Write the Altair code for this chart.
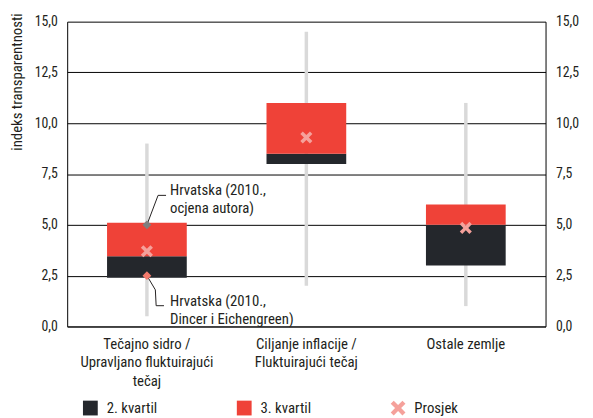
import math
import altair as alt
import pandas as pd

# ---------------- data ----------------
categories = [
    "Tečajno sidro /|Upravljano fluktuirajući|tečaj",
    "Ciljanje inflacije /|Fluktuirajući tečaj",
    "Ostale zemlje",
]
q1 = [2.4, 8.0, 3.0]
median = [3.45, 8.5, 5.0]
q3 = [5.1, 11.0, 6.0]
whisker_low = [0.5, 2.0, 1.0]
whisker_high = [9.0, 14.5, 11.0]
mean = [3.7, 9.3, 4.85]
series = ["2. kvartil", "3. kvartil", "Prosjek"]

croatia_src = ["ocjena autora", "Dincer i Eichengreen"]
croatia_values = [5.0, 2.5]
croatia_text = ["Hrvatska (2010.,\nocjena autora)", "Hrvatska (2010.,\nDincer i Eichengreen)"]
y_ticks = [0, 2.5, 5, 7.5, 10, 12.5, 15]

# annotation geometry (x in category-index units, y in index units)
leader_grp = ["a", "a", "a", "b", "b", "b", "b"]
leader_x = [0.5, 0.57, 0.62, 0.5, 0.553, 0.558, 0.607]
leader_y = [5.0, 6.45, 6.45, 2.5, 1.8, 1.02, 1.02]
label_x = [0.645, 0.645]
label_y = [6.72, 1.25]

# ---------------- styling ----------------
FONT = "Liberation Sans Narrow, Roboto Condensed, DejaVu Sans Condensed, sans-serif"
TXT = "#231f20"
DARK = "#24272c"
RED = "#ef4238"
SALMON = "#f5a19b"


def x_path(t=0.29):
    L = math.sqrt(2) - t
    pts = [(-t, -L), (t, -L), (t, -t), (L, -t), (L, t), (t, t), (t, L),
           (-t, L), (-t, t), (-L, t), (-L, -t), (-t, -t)]
    r = [((a - b) / math.sqrt(2), (a + b) / math.sqrt(2)) for a, b in pts]
    return "M" + "L".join(f"{a:.3f},{b:.3f}" for a, b in r) + "Z"


XSHAPE = x_path()

box_df = pd.DataFrame({
    "cat": categories, "wlo": whisker_low, "whi": whisker_high, "mean": mean,
    "mser": [series[2]] * 3,
})
bar_df = pd.DataFrame({
    "cat": categories * 2,
    "lo": q1 + median,
    "hi": median + q3,
    "series": [series[0]] * 3 + [series[1]] * 3,
})
cro_df = pd.DataFrame({
    "cat": [categories[0]] * 2, "src": croatia_src, "v": croatia_values,
    "label": croatia_text, "lx": label_x, "ly": label_y,
})
lead_df = pd.DataFrame({
    "grp": leader_grp, "lx": leader_x, "ly": leader_y,
    "ord": list(range(len(leader_x))),
})

yscale = alt.Scale(domain=[0, 15], nice=False, zero=True)
label_expr = "replace(format(datum.value, '.1f'), '.', ',')"


def band_x(axis=None):
    return alt.X(
        "cat:N", sort=categories,
        scale=alt.Scale(type="band", domain=categories, paddingInner=0, paddingOuter=0),
        axis=axis,
    )


quant_x = alt.X("lx:Q", scale=alt.Scale(domain=[0, 3], nice=False, zero=False), axis=None)

left_axis = alt.Axis(
    values=y_ticks, labelExpr=label_expr, orient="left", title="indeks transparentnosti",
    grid=True, gridColor="#000000", gridWidth=1, ticks=False, domain=True,
    domainColor="#000000", domainWidth=1, labelPadding=10, titleAnchor="end",
    titleY=-9, titlePadding=10, titleFontWeight="normal", titleFontSize=15,
)
right_axis = alt.Axis(
    values=y_ticks, labelExpr=label_expr, orient="right", title=None,
    grid=False, ticks=False, domain=True, domainColor="#000000", domainWidth=1,
    labelPadding=10,
)
x_axis = alt.Axis(
    title=None, labelExpr="split(datum.label, '|')", ticks=False, domain=True,
    domainColor="#333333", domainWidth=1.5, labelPadding=10, labelLineHeight=19,
    labelAngle=0, labelLimit=300, labelFontSize=15,
)

color_scale = alt.Scale(domain=series, range=[DARK, RED, SALMON])
shape_scale = alt.Scale(domain=series, range=["square", "square", XSHAPE])
legend_spec = alt.Legend(
    title=None, orient="none", legendX=16, legendY=384, direction="horizontal",
    columns=3, gridAlign="all", columnPadding=80, symbolSize=225,
    labelOffset=9, symbolStrokeWidth=0, padding=0,
)

whisk = alt.Chart(box_df).mark_rule(color="#d9d9d9", strokeWidth=3.5).encode(
    x=band_x(), y=alt.Y("wlo:Q", scale=yscale, axis=left_axis), y2="whi:Q",
)
bars = alt.Chart(bar_df).mark_bar(width=alt.RelativeBandSize(0.5)).encode(
    x=band_x(x_axis), y=alt.Y("lo:Q", scale=yscale, axis=right_axis), y2="hi:Q",
    color=alt.Color("series:N", scale=color_scale, legend=legend_spec),
)
means = alt.Chart(box_df).mark_point(filled=True, size=150, opacity=1).encode(
    x=band_x(), y=alt.Y("mean:Q", scale=yscale, axis=None),
    color=alt.Color("mser:N", scale=color_scale, legend=legend_spec),
    shape=alt.Shape("mser:N", scale=shape_scale, legend=legend_spec),
)
leaders = alt.Chart(lead_df).mark_line(color=TXT, strokeWidth=1).encode(
    x=quant_x, y=alt.Y("ly:Q", scale=yscale, axis=None), detail="grp:N", order="ord:Q",
)
dia_top = alt.Chart(cro_df).transform_filter(alt.datum.src == croatia_src[0]).mark_point(
    filled=True, shape="diamond", size=80, color="#7f7f7f", opacity=1
).encode(x=band_x(), y=alt.Y("v:Q", scale=yscale, axis=None))
dia_bot = alt.Chart(cro_df).transform_filter(alt.datum.src == croatia_src[1]).mark_point(
    filled=True, shape="diamond", size=80, color="#f47a6c", opacity=1
).encode(x=band_x(), y=alt.Y("v:Q", scale=yscale, axis=None))
labels = alt.Chart(cro_df).mark_text(
    align="left", baseline="middle", lineBreak="\n", fontSize=15, lineHeight=18,
    color=TXT, font=FONT,
).encode(x=quant_x, y=alt.Y("ly:Q", scale=yscale, axis=None), text="label:N")

chart = (
    alt.layer(whisk, bars, means, leaders, dia_top, dia_bot, labels)
    .resolve_scale(x="independent")
    .resolve_axis(y="independent")
    .properties(
        width=485, height=309,
        autosize=alt.AutoSizeParams(type="none"),
        padding={"left": 60, "top": 11, "right": 40, "bottom": 90},
    )
    .configure_view(stroke=None)
    .configure_axis(labelFont=FONT, titleFont=FONT, labelFontSize=14, titleFontSize=15,
                    labelColor=TXT, titleColor=TXT)
    .configure_legend(labelFont=FONT, labelFontSize=15, labelColor=TXT)
)

chart.save("out.html", embed_options={"renderer": "svg", "actions": False})
